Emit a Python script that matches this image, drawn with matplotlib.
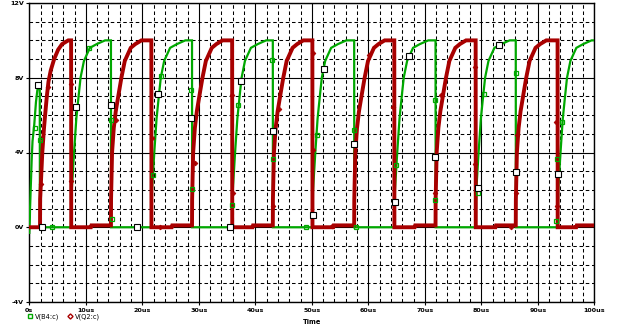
import matplotlib
matplotlib.use("Agg")
import matplotlib.pyplot as plt
from matplotlib.lines import Line2D
from matplotlib.ticker import MultipleLocator, FixedLocator

# ---------------- data ----------------
green_t = [0.0, 0.1, 0.12, 0.42, 0.57, 0.88, 1.18, 1.41, 1.6, 1.85, 1.88, 7.4,
           7.42, 7.52, 7.92, 8.32, 8.72, 9.07, 9.67, 10.72, 11.92, 13.42, 14.45, 14.47, 21.6,
           21.62, 21.72, 22.12, 22.52, 22.92, 23.27, 23.87, 24.92, 26.12, 27.62, 28.8, 28.82, 35.9,
           35.92, 36.02, 36.42, 36.82, 37.22, 37.57, 38.17, 39.22, 40.42, 41.92, 43.1, 43.12, 50.1,
           50.12, 50.22, 50.62, 51.02, 51.42, 51.77, 52.37, 53.42, 54.62, 56.12, 57.5, 57.52, 64.6,
           64.62, 64.72, 65.12, 65.52, 65.92, 66.27, 66.87, 67.92, 69.12, 70.62, 71.9, 71.92, 79.0,
           79.02, 79.12, 79.52, 79.92, 80.32, 80.67, 81.27, 82.32, 83.52, 85.02, 86.1, 86.12, 93.5,
           93.52, 93.62, 94.02, 94.42, 94.82, 95.17, 95.77, 96.82, 98.02, 99.52, 100.0]
green_v = [-0.3, 0.5, 0.9, 3.6, 4.6, 5.5, 6.7, 7.3, 7.6, 7.7, 0.0, 0.0,
           0.0, 2.0, 4.0, 5.8, 7.0, 8.0, 8.9, 9.6, 9.8, 10.0, 10.0, 0.0, 0.0,
           0.0, 2.0, 4.0, 5.8, 7.0, 8.0, 8.9, 9.6, 9.8, 10.0, 10.0, 0.0, 0.0,
           0.0, 2.0, 4.0, 5.8, 7.0, 8.0, 8.9, 9.6, 9.8, 10.0, 10.0, 0.0, 0.0,
           0.0, 2.0, 4.0, 5.8, 7.0, 8.0, 8.9, 9.6, 9.8, 10.0, 10.0, 0.0, 0.0,
           0.0, 2.0, 4.0, 5.8, 7.0, 8.0, 8.9, 9.6, 9.8, 10.0, 10.0, 0.0, 0.0,
           0.0, 2.0, 4.0, 5.8, 7.0, 8.0, 8.9, 9.6, 9.8, 10.0, 10.0, 0.0, 0.0,
           0.0, 2.0, 4.0, 5.8, 7.0, 8.0, 8.9, 9.6, 9.8, 10.0, 10.0]

red_t = [0.0, 1.9, 1.92, 2.3, 2.6, 2.8, 3.1, 3.4, 3.8, 4.4, 5.1, 5.8, 6.9, 7.4, 7.42,
         10.9, 11.0, 14.45,
         14.47, 14.65, 14.95, 15.3, 15.85, 16.3, 16.9, 17.95, 18.75, 19.85, 21.6, 21.62,
         25.2, 25.3, 28.8,
         28.82, 29.0, 29.3, 29.65, 30.2, 30.65, 31.25, 32.3, 33.1, 34.2, 35.9, 35.92,
         39.5, 39.6, 43.1,
         43.12, 43.3, 43.6, 43.95, 44.5, 44.95, 45.55, 46.6, 47.4, 48.5, 50.1, 50.12,
         53.8, 53.9, 57.5,
         57.52, 57.7, 58.0, 58.35, 58.9, 59.35, 59.95, 61.0, 61.8, 62.9, 64.6, 64.62,
         68.2, 68.3, 71.9,
         71.92, 72.1, 72.4, 72.75, 73.3, 73.75, 74.35, 75.4, 76.2, 77.3, 79.0, 79.02,
         82.5, 82.6, 86.1,
         86.12, 86.3, 86.6, 86.95, 87.5, 87.95, 88.55, 89.6, 90.4, 91.5, 93.5, 93.52,
         96.8, 96.9, 100.0]
red_v = [0.0, 0.0, 1.5, 4.0, 5.3, 6.0, 7.0, 7.8, 8.4, 9.0, 9.5, 9.8, 10.0, 10.0, 0.0,
         0.0, 0.1, 0.1,
         1.5, 4.0, 5.3, 6.2, 7.2, 8.0, 8.9, 9.6, 9.8, 10.0, 10.0, 0.0,
         0.0, 0.1, 0.1,
         1.5, 4.0, 5.3, 6.2, 7.2, 8.0, 8.9, 9.6, 9.8, 10.0, 10.0, 0.0,
         0.0, 0.1, 0.1,
         1.5, 4.0, 5.3, 6.2, 7.2, 8.0, 8.9, 9.6, 9.8, 10.0, 10.0, 0.0,
         0.0, 0.1, 0.1,
         1.5, 4.0, 5.3, 6.2, 7.2, 8.0, 8.9, 9.6, 9.8, 10.0, 10.0, 0.0,
         0.0, 0.1, 0.1,
         1.5, 4.0, 5.3, 6.2, 7.2, 8.0, 8.9, 9.6, 9.8, 10.0, 10.0, 0.0,
         0.0, 0.1, 0.1,
         1.5, 4.0, 5.3, 6.2, 7.2, 8.0, 8.9, 9.6, 9.8, 10.0, 10.0, 0.0,
         0.0, 0.1, 0.1]

# trace markers (probe symbols)
box_t = [1.48, 2.30, 8.25, 14.43, 18.98, 22.79, 28.69, 35.46, 37.53, 43.11,
         50.18, 52.24, 57.42, 64.66, 67.26, 71.73, 79.40, 83.16, 86.22, 93.64]
box_v = [7.61, 0.0, 6.44, 6.54, 0.0, 7.13, 5.85, 0.0, 7.80, 5.17,
         0.64, 8.48, 4.46, 1.35, 9.17, 3.77, 2.08, 9.76, 2.93, 2.86]

gsq_t = [1.01, 1.84, 4.06, 10.6, 14.43, 14.56, 21.91, 23.39, 28.69, 28.87, 35.94, 36.93,
         42.93, 43.11, 48.89, 50.88, 57.42, 57.84, 64.91, 71.73, 71.80, 79.40, 80.51,
         86.11, 93.29, 93.46, 94.24]
gsq_v = [5.30, 4.69, 0.0, 9.6, 5.76, 0.46, 2.81, 8.11, 7.36, 2.06, 1.21, 6.54,
         8.94, 3.63, 0.0, 4.92, 5.23, 0.0, 3.32, 6.81, 1.44, 1.83, 7.13,
         8.28, 0.32, 3.63, 5.62]

rdm_t = [2.07, 3.36, 7.31, 7.31, 15.32, 21.63, 23.09, 29.28, 35.87, 36.04, 43.11, 44.12,
         50.18, 50.30, 53.60, 60.07, 64.31, 71.86, 72.86, 78.87, 78.87, 85.23, 86.22,
         86.40, 93.29, 93.46]
rdm_v = [2.29, 7.48, 7.66, 2.47, 5.74, 4.78, 0.0, 3.43, 7.08, 1.85, 1.14, 6.33,
         4.14, 9.35, 0.05, 9.21, 6.42, 1.83, 7.08, 8.60, 3.40, 0.0, 1.85,
         4.91, 5.62, 1.14]

x_ticks = [0, 10, 20, 30, 40, 50, 60, 70, 80, 90, 100]
x_labels = ["0s", "10us", "20us", "30us", "40us", "50us", "60us", "70us", "80us", "90us", "100us"]
y_ticks = [-4, 0, 4, 8, 12]
y_labels = ["-4V", "0V", "4V", "8V", "12V"]
series_names = ["V(B4:c)", "V(Q2:c)"]

GREEN = "#00a800"
RED = "#a80000"

# ---------------- figure ----------------
W, H = 624, 329
fig = plt.figure(figsize=(W / 100, H / 100), dpi=100)
ax = fig.add_axes([29.3 / W, 27 / H, 565 / W, 299 / H])
ax.set_xlim(0, 100)
ax.set_ylim(-4, 12)

ax.xaxis.set_major_locator(FixedLocator(x_ticks))
ax.set_xticklabels(x_labels)
ax.yaxis.set_major_locator(FixedLocator(y_ticks))
ax.set_yticklabels(y_labels)
ax.xaxis.set_minor_locator(MultipleLocator(2))
ax.yaxis.set_minor_locator(MultipleLocator(1))

ax.grid(which="major", color="black", lw=0.8, ls="-", zorder=0)
ax.grid(which="minor", color="black", lw=0.75, ls=(0, (3.4, 2.6)), zorder=0)
ax.set_axisbelow(True)
ax.tick_params(which="major", length=2, width=0.8, pad=2, labelsize=4.6, direction="out")
ax.tick_params(which="minor", length=0)
for lab in ax.get_xticklabels() + ax.get_yticklabels():
    lab.set_fontweight("bold")
for s in ax.spines.values():
    s.set_linewidth(1.0)
    s.set_color("black")

ax.plot(green_t, green_v, color=GREEN, lw=1.6, zorder=3, solid_joinstyle="miter")
ax.plot(red_t, red_v, color=RED, lw=2.8, zorder=4, solid_joinstyle="miter")

ax.plot(gsq_t, gsq_v, ls="none", marker="s", ms=2.4, mfc="none", mec=GREEN, mew=0.9, zorder=5)
ax.plot(rdm_t, rdm_v, ls="none", marker="D", ms=2.4, mfc=RED, mec=RED, mew=0.6, zorder=5)
ax.plot(box_t, box_v, ls="none", marker="s", ms=3.8, mfc="white", mec="black", mew=0.8, zorder=6)

ax.set_xlabel("Time", fontsize=4.8, fontweight="bold", labelpad=5)

handles = [Line2D([], [], ls="none", marker="s", ms=3, mfc="none", mec=GREEN, mew=1.0),
           Line2D([], [], ls="none", marker="D", ms=2.6, mfc="none", mec=RED, mew=1.0)]
fig.legend(handles, series_names, loc="center left", bbox_to_anchor=(28 / W, 1 - 317 / H),
           ncol=2, frameon=False, fontsize=4.8, handlelength=0.6, handletextpad=0.5,
           columnspacing=1.2, borderpad=0, borderaxespad=0)

fig.savefig("out.png", dpi=100)
